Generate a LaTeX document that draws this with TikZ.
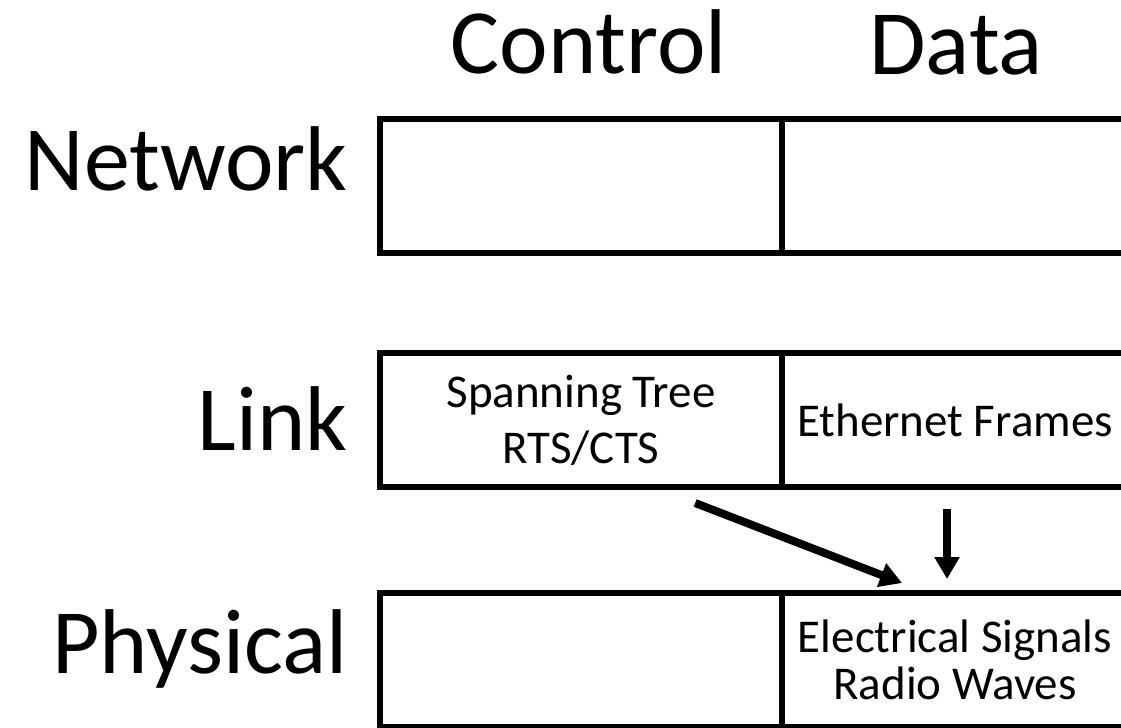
\documentclass[tikz,border=0pt]{standalone}
\usepackage{fontspec}
\setmainfont{Carlito}
\usetikzlibrary{
  arrows.meta,
  positioning,  % below=of, right=of
  calc,         % points on box edges
}
\def\myrowgap{50pt}
\def\mylowgap{53pt}
\tikzset{
  x=0.5pt,
  y=-0.5pt,
  >={Triangle[length=11pt,width=12pt]},
  layer box/.style={
    draw,
    line width=2.8pt,
    rectangle,
    inner sep=0mm,
    outer sep=0mm,
    minimum height=67pt,
    align=center,
    font=\fontsize{23.5}{28}\selectfont
  },
  ctl box/.style={
    layer box,
    minimum width=201pt
  },
  data box/.style={
    layer box,
    minimum width=173pt
  },
  big label/.style={
    font=\fontsize{46}{55}\selectfont,
    inner sep=0mm
  },
  flow/.style={
    ->,
    line width=4pt
  }
}

\begin{document}
\begin{tikzpicture}
\useasboundingbox (0,0) rectangle (1121,728);
\clip (0,0) rectangle (1121,728);
% columns
\node[big label,anchor=base] (colctl)  at (589,73) {Control};
\node[big label,anchor=base] (coldata) at (956,75) {Data};
% layer boxes
\node[ctl box]  (netctl)  at (581,186)             {};
\node[data box] (netdata) [right=0pt of netctl]    {};
\node[ctl box]  (lnkctl)  [below=\myrowgap of netctl] {Spanning Tree\\RTS/CTS};
\node[data box] (lnkdata) [right=0pt of lnkctl]    {Ethernet Frames};
\node[ctl box]  (phyctl)  [below=\mylowgap of lnkctl] {};
\node[data box,font=\fontsize{23.5}{23.5}\selectfont]
                (phydata) [right=0pt of phyctl]    {Electrical Signals\\Radio Waves};
% rows
\node[big label,anchor=base east] (rownet) at (348,190) {Network};
\node[big label,anchor=base east] (rowlnk) at (348,450) {Link};
\node[big label,anchor=base east] (rowphy) at (348,673) {Physical};
% arrows
\draw[flow]
($(lnkctl.south west)!0.784!(lnkctl.south east)+(0,16)$)
    -- ($(phydata.north west)!0.347!(phydata.north east)+(0,-10)$);
\draw[flow]
($(lnkdata.south west)!0.477!(lnkdata.south east)+(0,22)$)
    -- ($(phydata.north west)!0.477!(phydata.north east)+(0,-14)$);
\end{tikzpicture}
\end{document}
